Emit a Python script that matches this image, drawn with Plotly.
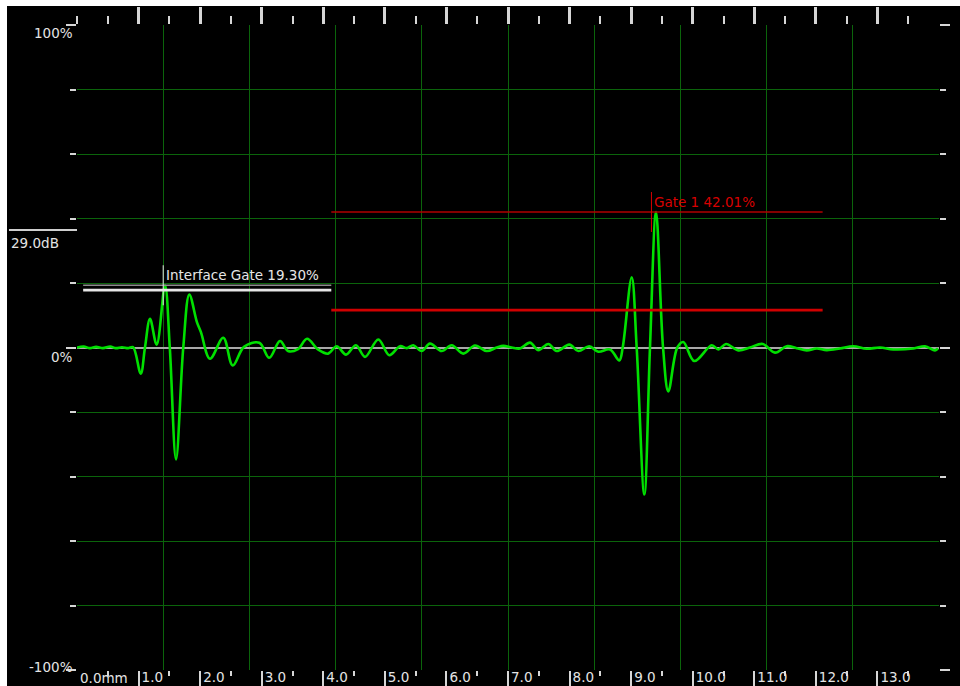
import plotly.graph_objects as go

# A-scan trace: depth (mm) vs. signal amplitude (% full screen height)
depth_mm = [
    0.00, 0.11, 0.21, 0.31, 0.42, 0.54, 0.63, 0.73, 0.83, 0.91,
    1.035, 1.104, 1.186, 1.294, 1.429, 1.507, 1.608, 1.726, 1.824, 1.949,
    2.014, 2.160, 2.376, 2.529, 2.712, 2.961, 3.123, 3.297, 3.427, 3.589,
    3.736, 3.914, 4.077, 4.218, 4.369, 4.531, 4.678, 4.894, 5.072, 5.246,
    5.355, 5.462, 5.598, 5.733, 5.923, 6.086, 6.274, 6.464, 6.654, 6.817,
    6.924, 7.060, 7.195, 7.357, 7.492, 7.655, 7.791, 7.996, 8.142, 8.320,
    8.467, 8.657, 8.808, 8.863, 9.009, 9.090, 9.214, 9.306, 9.404, 9.518,
    9.604, 9.750, 9.847, 10.026, 10.309, 10.416, 10.541, 10.740, 10.930, 11.137,
    11.337, 11.527, 11.689, 11.851, 12.014, 12.176, 12.392, 12.608, 12.826, 13.042,
    13.258, 13.583, 13.773, 13.935, 13.984,
]
amplitude_pct = [
    0.0, 0.3, -0.2, 0.2, -0.2, 0.3, -0.2, 0.1, -0.2, 0.1,
    -8.1, 0.0, 8.9, 0.9, 19.3, 0.0, -34.7, 0.0, 16.4, 7.8,
    4.7, -3.5, 3.0, -5.6, 0.2, 1.5, -3.2, 2.0, -1.1, -0.5,
    2.7, -0.6, -1.9, 0.4, -2.2, 0.7, -2.9, 2.5, -2.4, 0.4,
    -0.2, 0.7, -1.1, 1.2, -1.1, 0.7, -1.9, 0.6, -1.1, 0.0,
    0.5, 0.0, -0.3, 1.5, -0.8, 1.1, -1.1, 0.9, -1.1, 0.4,
    -1.3, -0.6, -4.0, 0.0, 21.8, 0.0, -45.6, 0.0, 42.01, 0.0,
    -13.6, 0.0, 1.7, -4.2, 0.7, -0.6, 1.1, -0.9, 0.0, 1.1,
    -1.6, 0.4, -0.2, -0.9, -0.3, -0.8, -0.3, 0.4, -0.4, 0.0,
    -0.6, -0.3, 0.4, -0.9, -0.3,
]

# Gates
gate_names = ["Interface Gate", "Gate 1"]
gate_starts = [0.10, 4.13]
gate_ends = [4.13, 12.11]
gate_thresholds = [17.8, 11.6]
gate_peaks = [19.30, 42.01]
gate_peak_depths = [1.40, 9.33]
gate_line_colors = ["#e6e6e6", "#d00000"]
gate_peak_colors = ["#8c8c8c", "#b00000"]
gate_text_colors = ["#e6e6e6", "#d80000"]

# Axis ticks
mm_ticks = list(range(1, 14))
mm_labels = [f"{v:.1f}" for v in mm_ticks]
half_mm_ticks = [v + 0.5 for v in range(0, 14)]
amp_major = [-100, 0, 100]
amp_minor = [-80, -60, -40, -20, 20, 40, 60, 80]
amp_labels = ["-100%", "0%", "100%"]
gain_db = 29.0
gain_level = 36.4

FONT = "DejaVu Sans"
TXT = "#e4e4e4"
GRID = "#0b640b"
TICK = "#d6d6d6"

fig = go.Figure()

shapes = []
annotations = []

for i in range(len(gate_names)):
    # peak level indicator (drawn on the grid axis)
    fig.add_trace(go.Scatter(
        x=[gate_starts[i], gate_ends[i]], y=[gate_peaks[i], gate_peaks[i]],
        xaxis="x3", yaxis="y", mode="lines",
        line=dict(color=gate_peak_colors[i], width=1.5),
        hoverinfo="skip", showlegend=False))
    # gate threshold bar (drawn on the top scale axis)
    fig.add_trace(go.Scatter(
        x=[gate_starts[i], gate_ends[i]], y=[gate_thresholds[i], gate_thresholds[i]],
        xaxis="x2", yaxis="y", mode="lines",
        line=dict(color=gate_line_colors[i], width=2.6),
        hoverinfo="skip", showlegend=False))
    # peak marker
    shapes.append(dict(type="line", xref="x", yref="y",
                       x0=gate_peak_depths[i], x1=gate_peak_depths[i],
                       y0=gate_peaks[i] - 6.2, y1=gate_peaks[i] + 6.2,
                       line=dict(color=gate_text_colors[i], width=1)))
    annotations.append(dict(
        x=gate_peak_depths[i], y=gate_peaks[i], xref="x", yref="y",
        text=f"{gate_names[i]} {gate_peaks[i]:.2f}%", showarrow=False,
        xanchor="left", yanchor="middle", xshift=1, yshift=10,
        font=dict(family=FONT, size=13.5, color=gate_text_colors[i])))

fig.add_trace(go.Scatter(
    x=depth_mm, y=amplitude_pct, mode="lines",
    line=dict(color="#00e000", width=2.6, shape="spline", smoothing=1.0),
    hoverinfo="skip", showlegend=False,
))

# white border strips around the black screen
shapes.append(dict(type="rect", xref="paper", yref="paper", x0=-0.1, x1=1.05,
                   y0=1.0295, y1=1.06, fillcolor="white", line_width=0, layer="above"))
shapes.append(dict(type="rect", xref="paper", yref="paper", x0=-0.1, x1=-0.0812,
                   y0=-0.05, y1=1.06, fillcolor="white", line_width=0, layer="above"))

# gain marker on the left
shapes.append(dict(type="line", xref="paper", yref="y", x0=-0.0789, x1=0,
                   y0=gain_level, y1=gain_level,
                   line=dict(color="#cfcfcf", width=2)))
annotations.append(dict(x=-0.0789, y=gain_level, xref="paper", yref="y",
                        text=f"{gain_db:.1f}dB", showarrow=False,
                        xanchor="left", yanchor="top", yshift=-3,
                        font=dict(family=FONT, size=13.5, color=TXT)))

# amplitude labels
for val, lab, dy in zip(amp_major, amp_labels, [3, -9, -8]):
    annotations.append(dict(x=0, y=val, xref="paper", yref="y", text=lab,
                            showarrow=False, xanchor="right", yanchor="middle",
                            xshift=-2, yshift=dy,
                            font=dict(family=FONT, size=13.5, color=TXT)))

# origin label of the depth scale
annotations.append(dict(x=0, y=0, xref="x", yref="paper", text="0.0mm",
                        showarrow=False, xanchor="left", yanchor="middle",
                        xshift=1, yshift=-8,
                        font=dict(family=FONT, size=13.5, color=TXT)))

fig.update_layout(
    width=960, height=686,
    margin=dict(l=77, r=21, t=25, b=16),
    paper_bgcolor="black", plot_bgcolor="black",
    showlegend=False, hovermode=False,
    shapes=shapes, annotations=annotations,
    xaxis=dict(
        range=[0, 14], tickmode="array", tickvals=mm_ticks, ticktext=mm_labels,
        ticks="outside", ticklen=15, tickwidth=2, tickcolor=TICK,
        ticklabelposition="outside right", ticklabelshift=2,
        ticklabelstandoff=-5,
        tickfont=dict(family=FONT, size=13.5, color=TXT), automargin=False,
        showgrid=False, zeroline=False, showline=False, fixedrange=True,
        minor=dict(tickmode="array", tickvals=half_mm_ticks, ticks="outside",
                   ticklen=5, tickwidth=2, tickcolor=TICK, showgrid=False),
    ),
    xaxis2=dict(
        range=[0, 14], overlaying="x", side="top", anchor="y",
        tickmode="array", tickvals=mm_ticks, showticklabels=False,
        ticks="outside", ticklen=17, tickwidth=2.5, tickcolor=TICK, automargin=False,
        showgrid=False, zeroline=False, showline=False, fixedrange=True,
        minor=dict(tickmode="array", tickvals=[0] + half_mm_ticks, ticks="outside",
                   ticklen=8, tickwidth=2, tickcolor=TICK, showgrid=False),
    ),
    xaxis3=dict(
        range=[0, 14], overlaying="x", side="bottom", anchor="y",
        tickmode="linear", tick0=0, dtick=1.4, showticklabels=False, ticks="",
        showgrid=True, gridcolor=GRID, gridwidth=1, automargin=False,
        zeroline=False, showline=False, fixedrange=True,
    ),
    yaxis=dict(
        range=[-100, 100], tickmode="array", tickvals=amp_major,
        showticklabels=False, ticks="outside", ticklen=10, tickwidth=2,
        tickcolor=TICK, mirror="ticks", showline=False, automargin=False,
        showgrid=True, gridcolor=GRID, gridwidth=1,
        zeroline=True, zerolinecolor="#a8a8a8", zerolinewidth=1.6,
        fixedrange=True,
        minor=dict(tickmode="array", tickvals=amp_minor, ticks="outside",
                   ticklen=6, tickwidth=2, tickcolor=TICK,
                   showgrid=True, gridcolor=GRID, gridwidth=1),
    ),
)

fig.write_html("out.html")
